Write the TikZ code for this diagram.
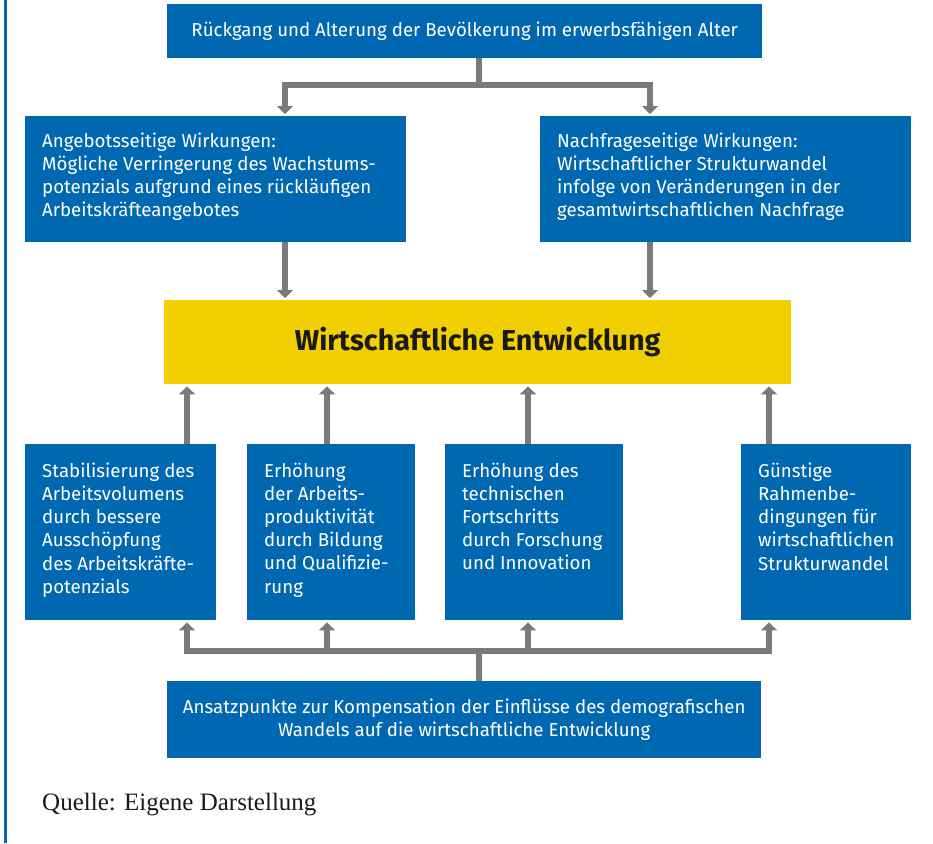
\documentclass[tikz,border=0pt]{standalone}
\usepackage{fontspec}
\setmainfont{Liberation Serif}
\newfontfamily\boxfont{Fira Sans}
\usetikzlibrary{arrows.meta}
\definecolor{dblue}{HTML}{0067B1}
\definecolor{dyellow}{HTML}{F2CF00}
\definecolor{dgray}{HTML}{7A7A7A}
\definecolor{dtext}{HTML}{1A1A1A}
\newcommand{\bxt}[4]{\parbox[t][#1][t]{#2}{\vspace*{#3}#4}}
\tikzset{
  bluebox/.style={fill=dblue, text=white, inner sep=0pt, font=\boxfont\fontsize{18.7}{23.2}\selectfont},
  tlbox/.style={bluebox, anchor=north west, inner xsep=17pt, inner ysep=0pt, align=left},
  conn/.style={draw=dgray, line width=6pt},
  arr/.style={conn, -{Triangle[width=16pt,length=8pt]}, shorten >=2pt},
}
\begin{document}
\begin{tikzpicture}[x=1pt,y=-1pt]
\useasboundingbox (0,0) rectangle (933,843);
\fill[dblue] (4,0) rectangle (6.5,843);
% coordinates for connector positions
\coordinate (jt) at (479,85);
\coordinate (jb) at (479,651);
\coordinate (xa) at (285,0);
\coordinate (xn) at (650,0);
\coordinate (u1) at (187,0);
\coordinate (u2) at (327,0);
\coordinate (u3) at (528,0);
\coordinate (u4) at (769,0);
% boxes
\node[bluebox, anchor=north west, minimum width=595pt, minimum height=54pt] (t) at (167,4)
  {Rückgang und Alterung der Bevölkerung im erwerbsfähigen Alter};
\node[tlbox] (A) at (25,116) {\bxt{126pt}{347pt}{16.5pt}{Angebotsseitige Wirkungen:\\Mögliche Verringerung des Wachstums-\\potenzials aufgrund eines rückläufigen\\Arbeitskräfteangebotes}};
\node[tlbox] (N) at (540,116) {\bxt{126pt}{337pt}{16.5pt}{Nachfrageseitige Wirkungen:\\Wirtschaftlicher Strukturwandel\\infolge von Veränderungen in der\\gesamtwirtschaftlichen Nachfrage}};
\node[fill=dyellow, text=dtext, anchor=north west, minimum width=627pt, minimum height=84pt, inner sep=0pt, font=\boxfont\bfseries\fontsize{28.8}{34}\selectfont] (Y) at (164,300) {Wirtschaftliche Entwicklung};
\node[tlbox] (b1) at (25,444) {\bxt{176pt}{157pt}{18.5pt}{Stabilisierung des\\Arbeitsvolumens\\durch bessere\\Ausschöpfung\\des Arbeitskräfte-\\potenzials}};
\node[tlbox] (b2) at (247,444) {\bxt{176pt}{134pt}{18.5pt}{Erhöhung\\der Arbeits-\\produktivität\\durch Bildung\\und Qualifizie-\\rung}};
\node[tlbox] (b3) at (445,444) {\bxt{176pt}{144pt}{18.5pt}{Erhöhung des\\technischen\\Fortschritts\\durch Forschung\\und Innovation}};
\node[tlbox] (b4) at (741,444) {\bxt{176pt}{136pt}{18.5pt}{Günstige\\Rahmenbe-\\dingungen für\\wirtschaftlichen\\Strukturwandel}};
\node[bluebox, anchor=north west, minimum width=594pt, minimum height=77pt, align=center] (bot) at (167,681)
  {Ansatzpunkte zur Kompensation der Einflüsse des demografischen\\Wandels auf die wirtschaftliche Entwicklung};
\node[anchor=base west, inner sep=0pt, font=\fontsize{25}{30}\selectfont, text=dtext] (q) at (42,810) {Quelle: Eigene Darstellung};
% connectors top
\draw[conn] (t.south -| jt) -- (jt);
\draw[arr] (jt) -| (A.north -| xa);
\draw[arr] (jt) -| (N.north -| xn);
\draw[arr] (A.south -| xa) -- (Y.north -| xa);
\draw[arr] (N.south -| xn) -- (Y.north -| xn);
% connectors up to Y
\draw[arr] (b1.north -| u1) -- (Y.south -| u1);
\draw[arr] (b2.north -| u2) -- (Y.south -| u2);
\draw[arr] (b3.north -| u3) -- (Y.south -| u3);
\draw[arr] (b4.north -| u4) -- (Y.south -| u4);
% bottom bus
\draw[conn] (bot.north -| jb) -- (jb);
\draw[arr] (jb) -| (b1.south -| u1);
\draw[arr] (jb) -| (b2.south -| u2);
\draw[arr] (jb) -| (b3.south -| u3);
\draw[arr] (jb) -| (b4.south -| u4);
\end{tikzpicture}
\end{document}
